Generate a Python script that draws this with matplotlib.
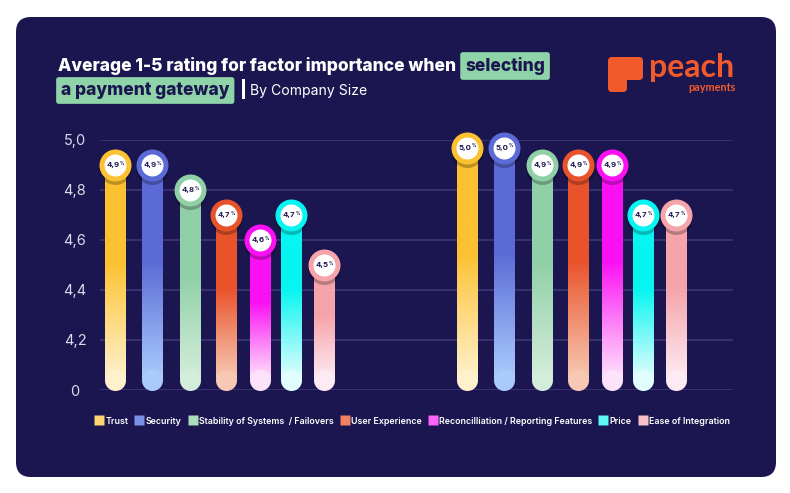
import numpy as np
import matplotlib
matplotlib.use("Agg")
from matplotlib import pyplot as plt
from matplotlib.colors import LinearSegmentedColormap, to_rgb
from matplotlib.lines import Line2D
from matplotlib.patches import FancyBboxPatch, Rectangle

plt.rcParams["font.family"] = ["Inter", "DejaVu Sans"]

# data
factors = [
    "Trust",
    "Security",
    "Stability of Systems  / Failovers",
    "User Experience",
    "Reconcilliation / Reporting Features",
    "Price",
    "Ease of Integration",
]
group_small = [4.9, 4.9, 4.8, 4.7, 4.6, 4.7, 4.5]
group_large = [4.97, 4.97, 4.9, 4.9, 4.9, 4.7, 4.7]
ytick_values = [4.0, 4.2, 4.4, 4.6, 4.8, 5.0]
ytick_labels = ["0", "4,2", "4,4", "4,6", "4,8", "5,0"]

# colours: (top, bottom) of each bar gradient
top_colors = ["#fcc130", "#5b6ad6", "#8fd0a6", "#e9532b", "#fb10f3", "#05f5f1", "#f5a4aa"]
bottom_colors = ["#fff1cc", "#a9cbfc", "#d4edda", "#f7c8b2", "#fde2fb", "#e2fdfd", "#fdeaf2"]

NAVY = "#1c1650"
GREEN = "#8fd3a8"
ORANGE = "#f15a2b"

W, H = 790, 493
fig = plt.figure(figsize=(W / 100, H / 100), dpi=100)
fig.patch.set_facecolor("white")

# background axes in pixel coordinates
bg = fig.add_axes([0, 0, 1, 1])
bg.set_xlim(0, W)
bg.set_ylim(H, 0)
bg.axis("off")
bg.add_patch(FancyBboxPatch((16, 17), 760, 460, boxstyle="round,pad=0,rounding_size=15",
                            fc=NAVY, ec="none", zorder=0))

# title
renderer = fig.canvas.get_renderer()
t1 = bg.text(58, 71, "Average 1-5 rating for factor importance when", color="white",
             fontsize=12.5, weight="heavy", va="baseline", zorder=3)
x_end = bg.transData.inverted().transform(t1.get_window_extent(renderer).p1)[0]
bg.text(x_end + 9, 71, "selecting", color=NAVY, fontsize=12.5, weight="heavy", va="baseline", zorder=3,
        bbox=dict(boxstyle="round,pad=0.28,rounding_size=0.15", fc=GREEN, ec="none"))
bg.text(61, 95, "a payment gateway", color=NAVY, fontsize=12.5, weight="heavy", va="baseline",
        zorder=3, bbox=dict(boxstyle="round,pad=0.28,rounding_size=0.15", fc=GREEN, ec="none"))
bg.add_patch(Rectangle((242, 79), 2.6, 20, fc="white", ec="none", zorder=3))
bg.text(250, 95, "By Company Size", color="white", fontsize=10.1, va="baseline", zorder=3)

# logo
bg.add_patch(FancyBboxPatch((608, 57), 35, 23, boxstyle="round,pad=0,rounding_size=4",
                            fc=ORANGE, ec="none", zorder=3))
bg.add_patch(FancyBboxPatch((608, 62), 19, 30, boxstyle="round,pad=0,rounding_size=4",
                            fc=ORANGE, ec="none", zorder=3))
bg.text(649, 77, "peach", color=ORANGE, fontsize=23, weight="bold", family="Lato",
        va="baseline", zorder=3)
bg.text(736, 91, "payments", color=ORANGE, fontsize=7.8, weight="bold", family="Lato",
        ha="right", va="baseline", zorder=3)

# chart axes: x in pixels, y in rating
ax = fig.add_axes([100 / W, (H - 390) / H, 633 / W, 250 / H])
ax.set_facecolor("none")
for s in ax.spines.values():
    s.set_visible(False)
for v in ytick_values:
    ax.axhline(v, color="#38316f", lw=1.4, zorder=1)
ax.set_yticks(ytick_values, ytick_labels)
ax.set_xticks([])
ax.tick_params(axis="y", length=0, pad=18, labelsize=10.5, labelcolor="#dcdaea")
for lab in ax.get_yticklabels():
    lab.set_ha("center")

px_y = 250.0  # pixels per rating unit
bar_w = 21
offsets = [0, 37, 75, 111, 145, 176, 209]
group_starts = [115, 467]
cap_r = bar_w / 2 / px_y


def blend(c1, c2, t):
    a, b = np.array(to_rgb(c1)), np.array(to_rgb(c2))
    return tuple(a + (b - a) * t)


grad = np.linspace(0, 1, 256).reshape(-1, 1)
for g, values in enumerate([group_small, group_large]):
    for i, val in enumerate(values):
        x = group_starts[g] + offsets[i]
        top, bot = top_colors[i], bottom_colors[i]
        cmap = LinearSegmentedColormap.from_list(
            "g", [(0, bot), (0.2, blend(bot, top, 0.35)), (0.55, top), (1, top)])
        y0 = 4.0 + cap_r
        ax.imshow(grad, extent=[x - bar_w / 2, x + bar_w / 2, y0, val], origin="lower",
                  cmap=cmap, aspect="auto", zorder=2, interpolation="bilinear")
        ax.scatter([x], [y0], s=(bar_w * 0.72) ** 2, color=bot, lw=0, zorder=2)
        # knob
        ax.scatter([x], [val - 3 / px_y], s=(33 * 0.72) ** 2, color="black", alpha=0.25,
                   lw=0, zorder=3, clip_on=False)
        ax.scatter([x], [val], s=(32 * 0.72) ** 2, color=top, lw=0, zorder=4, clip_on=False)
        ax.scatter([x], [val], s=(22 * 0.72) ** 2, color="white", lw=0, zorder=5, clip_on=False)
        ax.annotate(f"{val:.1f}".replace(".", ","), (x, val), xytext=(-1.3, -0.2),
                    textcoords="offset points", ha="center", va="center", fontsize=5.6,
                    weight="bold", color=NAVY, zorder=6, annotation_clip=False)
        ax.annotate("%", (x, val), xytext=(5.3, 1.3), textcoords="offset points",
                    ha="center", va="center", fontsize=3.2, weight="bold", color=NAVY,
                    zorder=6, annotation_clip=False)

ax.set_xlim(100, 733)
ax.set_ylim(4.0, 5.0)

# legend
handles = [Line2D([], [], ls="none", marker="s", markersize=7.5, markerfacecolor=blend(b, t, 0.6),
                  markeredgecolor="none") for t, b in zip(top_colors, bottom_colors)]
leg = fig.legend(handles, factors, loc="center", bbox_to_anchor=(413 / W, (H - 421) / H),
                 ncol=7, frameon=False, fontsize=6.4, handlelength=0.7, handletextpad=0.35,
                 columnspacing=0.9, borderpad=0)
for txt in leg.get_texts():
    txt.set_color("white")
    txt.set_fontweight("semibold")

fig.savefig("out.png", dpi=100, facecolor="white")
